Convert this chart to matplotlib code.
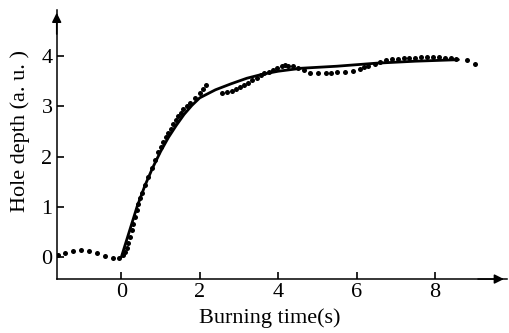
import matplotlib
matplotlib.use("Agg")
import matplotlib.pyplot as plt

# measured points (dots)
t_data = [-1.61, -1.44, -1.23, -1.02, -0.82, -0.63, -0.42, -0.22, -0.05,
          0.05, 0.10, 0.14, 0.18, 0.22, 0.26, 0.30, 0.34, 0.39, 0.43, 0.47,
          0.52, 0.60, 0.68, 0.77, 0.85, 0.94, 1.00, 1.07, 1.13, 1.19, 1.26,
          1.32, 1.39, 1.45, 1.52, 1.58, 1.67, 1.75, 1.88, 2.00, 2.08, 2.17,
          2.56, 2.69, 2.82, 2.93, 3.03, 3.13, 3.24, 3.34, 3.45, 3.55, 3.65,
          3.76, 3.87, 3.98, 4.09, 4.18, 4.26, 4.38, 4.50, 4.65, 4.81, 5.02,
          5.23, 5.36, 5.49, 5.70, 5.91, 6.08, 6.20, 6.30, 6.47, 6.60, 6.75,
          6.90, 7.05, 7.20, 7.35, 7.50, 7.65, 7.80, 7.95, 8.10, 8.25, 8.40,
          8.55, 8.81, 9.02]
depth_data = [0.03, 0.08, 0.11, 0.13, 0.11, 0.07, 0.02, -0.03, -0.03,
              0.04, 0.10, 0.17, 0.27, 0.40, 0.53, 0.66, 0.79, 0.93, 1.06, 1.17,
              1.28, 1.43, 1.60, 1.77, 1.93, 2.10, 2.20, 2.30, 2.38, 2.47, 2.55,
              2.64, 2.72, 2.80, 2.87, 2.94, 3.01, 3.07, 3.17, 3.27, 3.35, 3.42,
              3.26, 3.28, 3.30, 3.34, 3.38, 3.43, 3.47, 3.53, 3.57, 3.62, 3.66,
              3.69, 3.72, 3.77, 3.80, 3.82, 3.81, 3.80, 3.77, 3.72, 3.67, 3.66,
              3.67, 3.66, 3.68, 3.69, 3.71, 3.74, 3.78, 3.81, 3.85, 3.88, 3.92,
              3.94, 3.95, 3.96, 3.97, 3.97, 3.98, 3.98, 3.98, 3.98, 3.97, 3.96,
              3.94, 3.92, 3.85]

# fitted curve (solid line)
t_fit = [0.0, 0.2, 0.4, 0.6, 0.8, 1.0, 1.2, 1.4, 1.6, 1.8, 2.0, 2.4, 2.8,
         3.2, 3.6, 4.0, 4.6, 5.5, 6.5, 7.5, 8.6]
depth_fit = [0.0, 0.5, 1.0, 1.42, 1.78, 2.1, 2.38, 2.62, 2.84, 3.02, 3.17,
             3.33, 3.45, 3.56, 3.64, 3.70, 3.76, 3.80, 3.86, 3.90, 3.93]

xticks = [0, 2, 4, 6, 8]
yticks = [0, 1, 2, 3, 4]

plt.rcParams['font.family'] = ['Liberation Serif', 'DejaVu Serif']

fig = plt.figure(figsize=(5.09, 3.33), dpi=100)
ax = fig.add_axes([0.1114, 0.162, 0.884, 0.808])

ax.plot(t_fit, depth_fit, color='black', lw=2.0, solid_capstyle='round')
ax.plot(t_data, depth_data, 'o', color='black', markersize=3.6, markeredgewidth=0)

ax.set_xlim(-1.65, 9.83)
ax.set_ylim(-0.44, 4.92)
ax.set_xticks(xticks)
ax.set_yticks(yticks)
ax.tick_params(direction='in', length=5, width=1.2, labelsize=16, pad=3)

for side in ['top', 'right']:
    ax.spines[side].set_visible(False)
for side in ['left', 'bottom']:
    ax.spines[side].set_linewidth(1.1)

# arrow heads on the axes
ax.annotate('', xy=(1.0, 0), xytext=(0.93, 0), xycoords='axes fraction',
            arrowprops=dict(arrowstyle='-|>', color='black', lw=1.1, mutation_scale=14))
ax.annotate('', xy=(0, 1.0), xytext=(0, 0.9), xycoords='axes fraction',
            arrowprops=dict(arrowstyle='-|>', color='black', lw=1.1, mutation_scale=14))

ax.set_xlabel('Burning time(s)', fontsize=16)
ax.set_ylabel('Hole depth (a. u. )', fontsize=16)
ax.xaxis.set_label_coords(0.474, -0.11)
ax.yaxis.set_label_coords(-0.06, 0.55)

fig.savefig('out.png', dpi=100)
